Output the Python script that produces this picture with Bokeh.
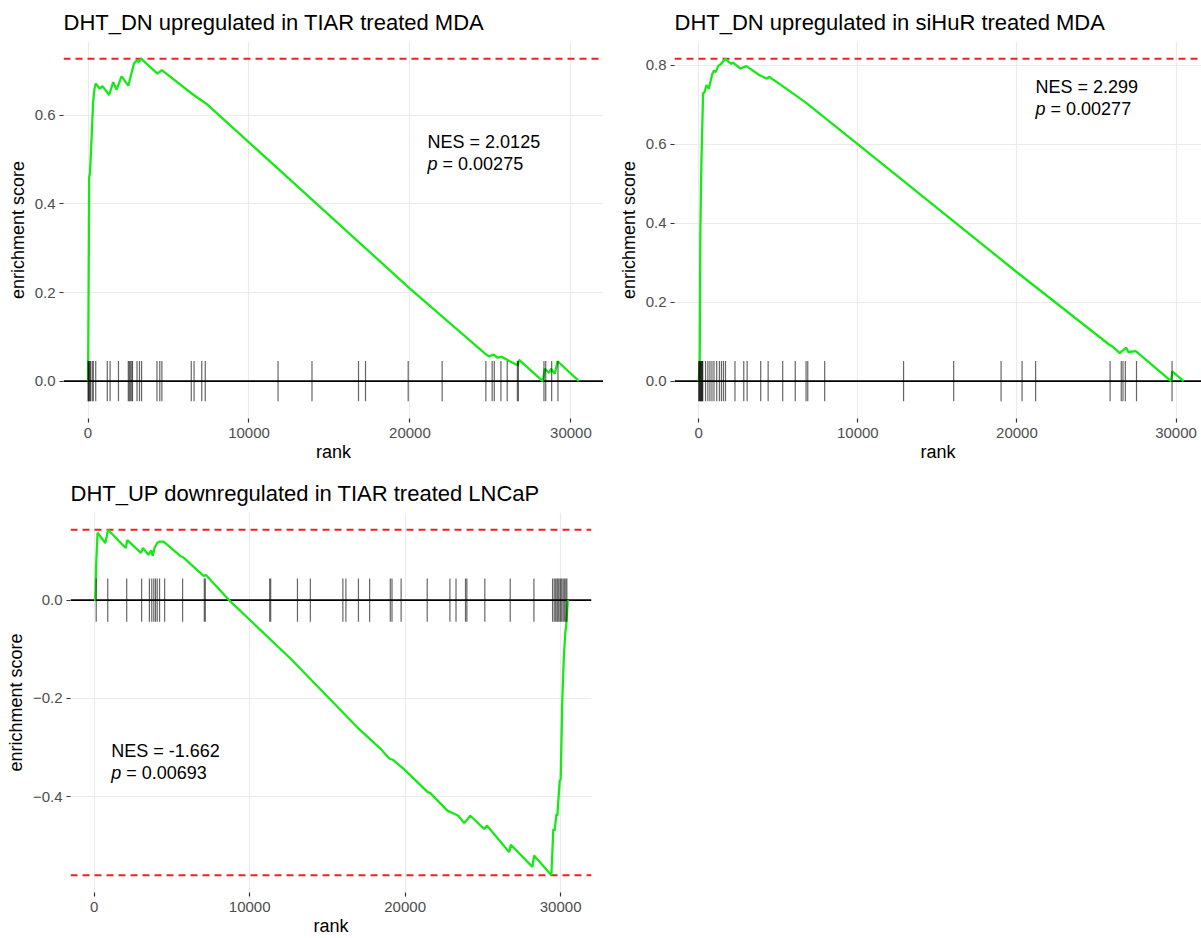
from bokeh.plotting import figure
from bokeh.layouts import column, row
from bokeh.models import Range1d, FixedTicker, Span, Label
from bokeh.embed import file_html
from bokeh.resources import INLINE

FONT = "Liberation Sans"

# ---------------- data ----------------
x_ticks = [0, 10000, 20000, 30000]
x_tick_labels = ["0", "10000", "20000", "30000"]

# Panel 1
p1_title = "DHT_DN upregulated in TIAR treated MDA"
p1_rank = [0, 30, 70, 120, 208, 312, 400, 479, 729, 896, 1312, 1562, 1771, 2083, 2500,
           2854, 3021, 3146, 3291, 4312, 4583, 6562, 7395, 10000, 20000, 24650, 24900,
           25200, 25450, 25700, 26200, 26700, 26780, 28250, 28380, 28650, 28760, 29000,
           29170, 30500]
p1_es = [0.0, 0.18, 0.46, 0.47, 0.539, 0.628, 0.66, 0.672, 0.66, 0.666, 0.646, 0.675,
         0.658, 0.688, 0.667, 0.717, 0.724, 0.72, 0.728, 0.694, 0.702, 0.646, 0.625,
         0.539, 0.209, 0.063, 0.056, 0.06, 0.053, 0.055, 0.045, 0.036, 0.048, 0.0,
         0.028, 0.019, 0.028, 0.017, 0.045, 0.0]
p1_hits = [0, 30, 65, 110, 152, 261, 326, 478, 1196, 1370, 1891, 2500, 2565, 2630, 2717,
           2761, 3043, 3196, 3326, 4283, 4457, 4587, 6413, 6587, 7065, 7283, 11804, 13913,
           16804, 17239, 19891, 22000, 24717, 25109, 25239, 25652, 26043, 26674, 26739,
           28326, 28435, 28804, 29196]
p1_nes = "NES = 2.0125"
p1_p = "= 0.00275"
p1_yticks = [0.0, 0.2, 0.4, 0.6]
p1_ylabels = ["0.0", "0.2", "0.4", "0.6"]

# Panel 2
p2_title = "DHT_DN upregulated in siHuR treated MDA"
p2_rank = [0, 60, 100, 167, 272, 377, 481, 628, 732, 858, 962, 1067, 1213, 1360, 1527,
           1695, 1841, 2050, 2155, 2615, 2992, 3828, 4289, 4414, 5188, 6757, 11360, 20000,
           25790, 26000, 26460, 26600, 26870, 27000, 27470, 29690, 29760, 30480]
p2_es = [0.0, 0.05, 0.38, 0.556, 0.729, 0.733, 0.75, 0.741, 0.758, 0.779, 0.787, 0.783,
         0.798, 0.802, 0.81, 0.817, 0.81, 0.804, 0.807, 0.792, 0.798, 0.775, 0.766, 0.771,
         0.75, 0.705, 0.556, 0.276, 0.093, 0.088, 0.071, 0.076, 0.085, 0.074, 0.076, 0.0,
         0.025, 0.0]
p2_hits = [0, 30, 64, 100, 128, 160, 191, 230, 255, 426, 575, 702, 830, 958, 1128, 1298,
           1426, 1553, 1681, 2277, 2830, 3043, 3894, 4362, 5277, 6064, 6745, 6852, 7916,
           12874, 16024, 19003, 20322, 21174, 25855, 26557, 26664, 26813, 27515, 29749]
p2_nes = "NES = 2.299"
p2_p = "= 0.00277"
p2_yticks = [0.0, 0.2, 0.4, 0.6, 0.8]
p2_ylabels = ["0.0", "0.2", "0.4", "0.6", "0.8"]

# Panel 3
p3_title = "DHT_UP downregulated in TIAR treated LNCaP"
p3_rank = [0, 65, 131, 218, 719, 893, 2026, 2135, 3007, 3138, 3486, 3660, 3770, 3879,
           4053, 4205, 4423, 4576, 5578, 5730, 7038, 7190, 8673, 12654, 16953, 18461,
           18996, 19210, 19957, 21453, 21624, 22735, 22949, 23419, 23804, 24189, 25086,
           25257, 26689, 26796, 28185, 28291, 29403, 29531, 29616, 29723, 29788, 29937,
           30001, 30108, 30200, 30300, 30350, 30462]
p3_es = [0.0, 0.0, 0.075, 0.137, 0.116, 0.143, 0.106, 0.122, 0.096, 0.106, 0.092, 0.101,
         0.09, 0.106, 0.116, 0.119, 0.119, 0.116, 0.089, 0.087, 0.049, 0.051, 0.0, -0.12,
         -0.26, -0.304, -0.323, -0.325, -0.345, -0.391, -0.393, -0.429, -0.432, -0.439,
         -0.454, -0.439, -0.466, -0.459, -0.513, -0.498, -0.543, -0.52, -0.56, -0.466,
         -0.469, -0.436, -0.439, -0.368, -0.365, -0.203, -0.12, -0.065, -0.055, 0.0]
p3_hits = [131, 872, 2092, 3051, 3552, 3704, 3835, 3944, 4053, 4205, 4532, 5687, 7082,
           7147, 11287, 11352, 13074, 13903, 15994, 16190, 16996, 17715, 19045, 19154,
           19741, 21419, 22879, 23271, 23882, 23969, 25124, 26758, 28283, 29481, 29590,
           29680, 29765, 29830, 29900, 29990, 30070, 30160, 30240, 30330, 30400]
p3_nes = "NES = -1.662"
p3_p = "= 0.00693"
p3_yticks = [-0.4, -0.2, 0.0]
p3_ylabels = ["\u22120.4", "\u22120.2", "0.0"]


def build(title, rank, es, hits, nes_txt, p_txt, yticks, ylabels,
          width, height, borders, x_end, lab_x, lab_y1, lab_y2):
    n = rank[-1]
    half = (max(es) - min(es)) / 16.0
    lo = min(min(es), -half)
    hi = max(max(es), half)
    pad = 0.05 * (hi - lo)
    x_hi = x_end if x_end is not None else 1.05 * n
    bl, br, bt, bb = borders
    p = figure(width=width, height=height,
               x_range=Range1d(-0.05 * n, x_hi), y_range=Range1d(lo - pad, hi + pad),
               output_backend="svg", toolbar_location=None,
               min_border_left=bl, min_border_right=br,
               min_border_top=bt, min_border_bottom=bb)
    p.outline_line_color = None
    p.background_fill_color = "white"
    p.border_fill_color = "white"

    p.title.text = title
    p.title.text_font = FONT
    p.title.text_font_size = "22px"
    p.title.text_font_style = "normal"
    p.title.text_color = "black"
    p.title.align = "left"
    p.title.standoff = 14

    p.xaxis.ticker = FixedTicker(ticks=x_ticks)
    p.xaxis.major_label_overrides = dict(zip(x_ticks, x_tick_labels))
    p.yaxis.ticker = FixedTicker(ticks=yticks)
    p.yaxis.major_label_overrides = dict(zip(yticks, ylabels))
    p.xaxis.axis_label = "rank"
    p.yaxis.axis_label = "enrichment score"
    for ax in (p.xaxis, p.yaxis):
        ax.axis_line_color = None
        ax.major_tick_line_color = "#333333"
        ax.major_tick_line_width = 1.2
        ax.major_tick_out = 4
        ax.major_tick_in = 0
        ax.minor_tick_line_color = None
        ax.major_label_text_font = FONT
        ax.major_label_text_font_size = "15px"
        ax.major_label_text_color = "#4d4d4d"
        ax.axis_label_text_font = FONT
        ax.axis_label_text_font_size = "18px"
        ax.axis_label_text_font_style = "normal"
        ax.axis_label_text_color = "black"
    p.xaxis.major_label_standoff = 5
    p.xaxis.axis_label_standoff = 1
    p.yaxis.major_label_standoff = 4
    p.yaxis.axis_label_standoff = 4

    p.grid.grid_line_color = "#ebebeb"
    p.grid.grid_line_width = 1.2
    p.grid.minor_grid_line_color = None

    p.add_layout(Span(location=max(es), dimension="width", line_color="#ee2020",
                      line_dash="7 5", line_width=2, level="underlay"))
    if min(es) < -half / 2:
        p.add_layout(Span(location=min(es), dimension="width", line_color="#ee2020",
                          line_dash="7 5", line_width=2, level="underlay"))
    p.add_layout(Span(location=0, dimension="width", line_color="black",
                      line_width=1.7, level="underlay"))

    p.line(rank, es, line_color="#18e818", line_width=2.3)
    p.segment(x0=hits, y0=[-half] * len(hits), x1=hits, y1=[half] * len(hits),
              line_color="black", line_alpha=0.6, line_width=1.2)

    p.add_layout(Label(x=lab_x, y=lab_y1, text=nes_txt, text_font=FONT,
                       text_font_size="18px", text_baseline="middle", text_color="black"))
    p.add_layout(Label(x=lab_x, y=lab_y2, text="p", text_font=FONT,
                       text_font_size="18px", text_font_style="italic",
                       text_baseline="middle", text_color="black"))
    p.add_layout(Label(x=lab_x, y=lab_y2, x_offset=15, text=p_txt, text_font=FONT,
                       text_font_size="18px", text_baseline="middle", text_color="black"))
    return p


f1 = build(p1_title, p1_rank, p1_es, p1_hits, p1_nes, p1_p, p1_yticks, p1_ylabels,
           603, 466, (63, 0, 40, 48), None, 21095, 0.539, 0.49)
f2 = build(p2_title, p2_rank, p2_es, p2_hits, p2_nes, p2_p, p2_yticks, p2_ylabels,
           598, 466, (71, 0, 40, 48), 31600, 21170, 0.744, 0.689)
f3 = build(p3_title, p3_rank, p3_es, p3_hits, p3_nes, p3_p, p3_yticks, p3_ylabels,
           603, 472, (70, 12, 46, 44), None, 1093, -0.307, -0.352)

layout = column(row(f1, f2, spacing=0), f3, spacing=0)

open("out.html", "w").write(file_html(layout, INLINE))
